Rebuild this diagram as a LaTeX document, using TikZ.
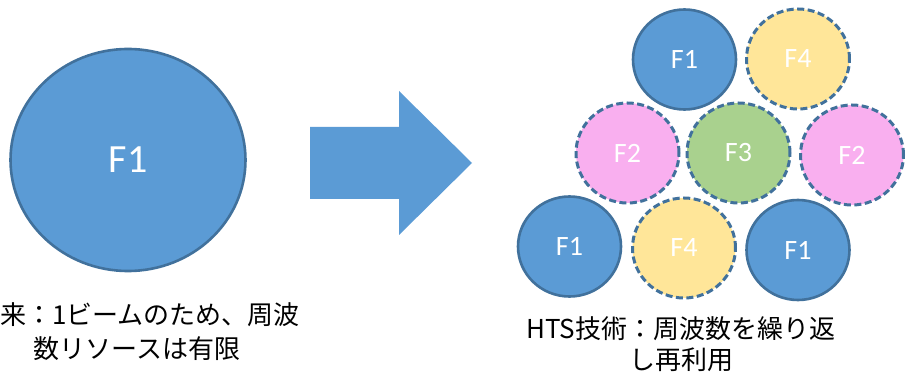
\documentclass[tikz,border=0pt]{standalone}
\usepackage{fontspec}
\setmainfont{Carlito}
\newfontfamily\jpfont{Noto Sans CJK JP}
\usetikzlibrary{shapes.geometric}
\definecolor{cblue}{HTML}{5B9BD5}
\definecolor{cborder}{HTML}{41719C}
\definecolor{cyellow}{HTML}{FFE699}
\definecolor{cpink}{HTML}{F9AFEF}
\definecolor{cgreen}{HTML}{A9D18E}
\begin{document}
\begin{tikzpicture}[x=1pt,y=-1pt,
  cell/.style={ellipse, minimum width=103pt, minimum height=100pt, inner sep=0pt,
    line width=2.6pt, draw=cborder, text=white, font=\fontsize{28}{28}\selectfont},
  solidcell/.style={cell, fill=cblue},
  dashcell/.style={cell, line width=3pt, dash pattern=on 7pt off 3.5pt},
  caption/.style={align=center, inner sep=0pt, text=black}
]
\useasboundingbox (0,0) rectangle (906,374);

% big beam
\node[ellipse, minimum width=235pt, minimum height=222pt, inner sep=0pt,
  line width=2.6pt, draw=cborder, fill=cblue, text=white,
  font=\fontsize{40}{40}\selectfont] (big) at (128,160) {F1};

% arrow
\fill[cblue] (310,127) -- (399,127) -- (399,91) -- (472,163) -- (399,235)
  -- (399,199) -- (310,199) -- cycle;

% multi-beam cells
\node[solidcell] (f1t) at (684.5,59.5) {F1};
\node[dashcell, fill=cyellow] (f4t) at (798,59) {F4};
\node[dashcell, fill=cpink] (f2l) at (627.5,153) {F2};
\node[dashcell, fill=cgreen] (f3) at (738.5,153) {F3};
\node[dashcell, fill=cpink] (f2r) at (852,155) {F2};
\node[solidcell] (f1bl) at (569.5,246.5) {F1};
\node[dashcell, fill=cyellow] (f4b) at (684,248) {F4};
\node[solidcell] (f1br) at (798,250) {F1};

% captions
\node[caption, font=\jpfont\fontsize{26}{34}\selectfont] (capl) at (137,332)
  {\phantom{従}来：1ビームのため、周波\\数リソースは有限};
\node[caption, font=\jpfont\fontsize{26}{31}\selectfont] (capr) at (681,344)
  {HTS技術：周波数を繰り返\\し再利用};
\end{tikzpicture}
\end{document}
